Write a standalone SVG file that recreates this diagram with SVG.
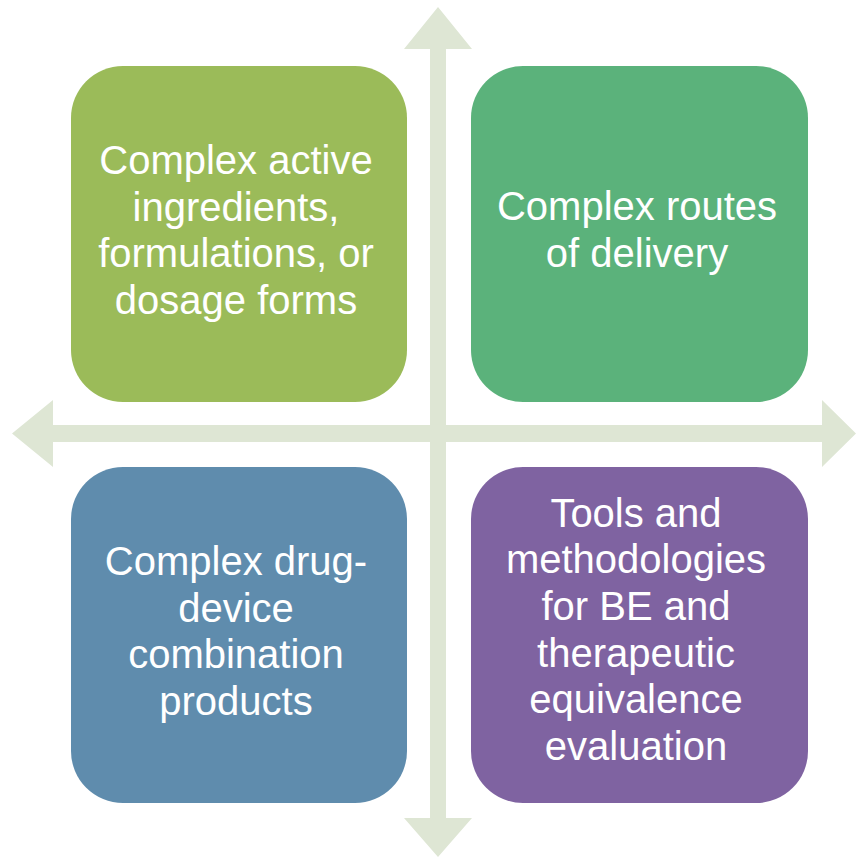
<svg xmlns="http://www.w3.org/2000/svg" width="856" height="858" viewBox="0 0 856 858">
  <style>
    .box { stroke: none; }
    .label { font-family: "Liberation Sans", Arial, sans-serif; font-size: 40px; fill: #ffffff; text-anchor: middle; }
    .axis { fill: #dee6d4; stroke: none; }
  </style>
  <rect width="856" height="858" fill="#ffffff"/>

  <!-- four-way arrow cross -->
  <g id="connectors">
    <path class="axis" d="M438,7 L472,49 L446,49 L446,425 L822,425 L822,400 L856,433.5 L822,467 L822,442 L446,442 L446,818 L472,818 L438,857 L404,818 L430,818 L430,442 L53,442 L53,467 L12,433.5 L53,400 L53,425 L430,425 L430,49 L404,49 Z"/>
  </g>

  <g id="node-active-ingredients">
    <rect class="box" x="71" y="66" width="336" height="336" rx="52" ry="52" fill="#9bbb59"/>
    <text class="label" x="236" y="174">Complex active</text>
    <text class="label" x="236" y="221">ingredients,</text>
    <text class="label" x="236" y="267">formulations, or</text>
    <text class="label" x="236" y="314">dosage forms</text>
  </g>

  <g id="node-routes-of-delivery">
    <rect class="box" x="471" y="66" width="337" height="336" rx="52" ry="52" fill="#5bb27b"/>
    <text class="label" x="637" y="220">Complex routes</text>
    <text class="label" x="637" y="267">of delivery</text>
  </g>

  <g id="node-drug-device">
    <rect class="box" x="71" y="467" width="336" height="336" rx="52" ry="52" fill="#5f8cad"/>
    <text class="label" x="236" y="575">Complex drug-</text>
    <text class="label" x="236" y="622">device</text>
    <text class="label" x="236" y="668">combination</text>
    <text class="label" x="236" y="715">products</text>
  </g>

  <g id="node-tools-methodologies">
    <rect class="box" x="471" y="467" width="337" height="336" rx="52" ry="52" fill="#7f63a1"/>
    <text class="label" x="636" y="527">Tools and</text>
    <text class="label" x="636" y="573">methodologies</text>
    <text class="label" x="636" y="620">for BE and</text>
    <text class="label" x="636" y="667">therapeutic</text>
    <text class="label" x="636" y="713">equivalence</text>
    <text class="label" x="636" y="760">evaluation</text>
  </g>
</svg>
